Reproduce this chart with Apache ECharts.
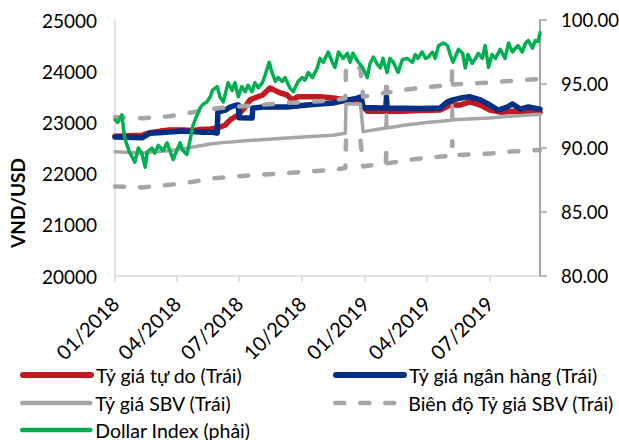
<!DOCTYPE html>
<html>
<head>
<meta charset="utf-8">
<script src="https://cdn.jsdelivr.net/npm/echarts@6/dist/echarts.min.js"></script>
<style>html,body{margin:0;padding:0;background:#fff}#c{width:619px;height:440px}</style>
</head>
<body>
<div id="c"></div>
<script>
// ---- Data ----
const startDate = '2018-01-01';
const endDate = '2019-09-13';
const tickDates = ['2018-01-01','2018-04-01','2018-07-01','2018-10-01','2019-01-01','2019-04-01','2019-07-01'];
const tickLabels = ['01/2018','04/2018','07/2018','10/2018','01/2019','04/2019','07/2019'];
const leftTicks = [20000, 21000, 22000, 23000, 24000, 25000];
const rightTicks = [80, 85, 90, 95, 100];

const seriesNames = ['Tỷ giá tự do (Trái)', 'Tỷ giá ngân hàng (Trái)', 'Tỷ giá SBV (Trái)', 'Biên độ Tỷ giá SBV (Trái)', 'Dollar Index (phải)'];

// Free-market rate (VND/USD)
const freeRate = [
  ['2018-01-01',22730],['2018-01-22',22740],['2018-02-10',22750],['2018-02-21',22800],['2018-03-08',22830],
  ['2018-03-22',22850],['2018-04-10',22850],['2018-04-25',22840],['2018-05-05',22860],['2018-05-20',22870],
  ['2018-05-31',22890],['2018-06-11',22950],['2018-06-18',23050],['2018-06-30',23150],['2018-07-10',23300],
  ['2018-07-17',23440],['2018-07-24',23480],['2018-08-04',23530],['2018-08-15',23670],['2018-08-20',23640],
  ['2018-08-30',23575],['2018-09-09',23535],['2018-09-16',23440],['2018-09-25',23500],['2018-10-08',23500],
  ['2018-10-27',23500],['2018-11-15',23475],['2018-12-06',23440],['2018-12-19',23420],['2018-12-28',23330],
  ['2019-01-04',23220],['2019-01-27',23220],['2019-02-21',23220],['2019-03-22',23230],['2019-04-20',23240],
  ['2019-05-05',23340],['2019-05-20',23340],['2019-06-03',23400],['2019-06-18',23340],['2019-07-02',23240],
  ['2019-07-17',23200],['2019-08-05',23220],['2019-08-25',23200],['2019-09-13',23200]
];

// Bank rate (VND/USD)
const bankRate = [
  ['2018-01-01',22715],['2018-02-10',22700],['2018-02-21',22790],['2018-03-22',22810],['2018-04-10',22830],
  ['2018-05-05',22810],['2018-05-20',22810],['2018-05-30',22790],['2018-05-31',23200],['2018-06-11',23240],
  ['2018-06-18',23300],['2018-06-27',23340],['2018-06-30',23340],['2018-07-01',23090],['2018-07-20',23086],
  ['2018-07-21',23280],['2018-08-05',23300],['2018-09-09',23300],['2018-10-08',23340],['2018-11-15',23380],
  ['2018-12-03',23430],['2018-12-19',23470],['2018-12-26',23500],['2018-12-29',23290],['2019-01-27',23280],
  ['2019-01-31',23280],['2019-02-01',23500],['2019-02-02',23280],['2019-03-22',23270],['2019-04-20',23280],
  ['2019-05-01',23400],['2019-05-09',23440],['2019-05-20',23475],['2019-06-03',23500],['2019-06-18',23440],
  ['2019-07-02',23340],['2019-07-14',23240],['2019-07-27',23300],['2019-08-04',23360],['2019-08-15',23260],
  ['2019-08-27',23300],['2019-09-13',23260]
];

// SBV central rate (VND/USD)
const sbvRate = [
  ['2018-01-01',22425],['2018-02-10',22400],['2018-03-22',22450],['2018-04-10',22480],['2018-04-25',22520],
  ['2018-05-20',22580],['2018-06-03',22600],['2018-07-20',22650],['2018-09-09',22695],['2018-10-08',22720],
  ['2018-11-15',22750],['2018-12-03',22790],['2018-12-04',23360],['2018-12-25',23360],['2018-12-27',23100],
  ['2018-12-29',22820],['2019-01-31',22890],['2019-02-01',23150],['2019-02-02',22890],['2019-03-01',22950],
  ['2019-04-01',23000],['2019-05-07',23040],['2019-05-08',23330],['2019-05-09',23050],['2019-07-01',23086],
  ['2019-08-01',23120],['2019-09-13',23160]
];

// SBV band, upper edge
const bandUpper = [
  ['2018-01-01',23100],['2018-02-10',23080],['2018-03-22',23120],['2018-04-25',23200],['2018-05-20',23260],
  ['2018-06-03',23280],['2018-07-20',23330],['2018-09-09',23380],['2018-10-08',23400],['2018-11-15',23430],
  ['2018-12-03',23470],['2018-12-04',24060],['2018-12-25',24060],['2018-12-27',23790],['2018-12-29',23500],
  ['2019-01-31',23580],['2019-02-01',23850],['2019-02-02',23580],['2019-03-01',23640],['2019-04-01',23690],
  ['2019-05-07',23730],['2019-05-08',24030],['2019-05-09',23740],['2019-07-01',23780],['2019-08-01',23810],
  ['2019-09-13',23850]
];

// SBV band, lower edge
const bandLower = [
  ['2018-01-01',21750],['2018-02-10',21730],['2018-03-22',21780],['2018-04-25',21840],['2018-05-20',21900],
  ['2018-06-03',21920],['2018-07-20',21970],['2018-09-09',22010],['2018-10-08',22040],['2018-11-15',22070],
  ['2018-12-03',22110],['2018-12-04',22660],['2018-12-25',22660],['2018-12-27',22410],['2018-12-29',22140],
  ['2019-01-31',22200],['2019-02-01',22460],['2019-02-02',22200],['2019-03-01',22260],['2019-04-01',22310],
  ['2019-05-07',22350],['2019-05-08',22630],['2019-05-09',22360],['2019-07-01',22390],['2019-08-01',22430],
  ['2019-09-13',22460]
];

// Dollar Index (right axis)
const dollarIndex = [
  ['2018-01-01',92.2],['2018-01-05',92.0],['2018-01-11',92.6],['2018-01-15',90.8],['2018-01-22',89.7],
  ['2018-01-30',88.9],['2018-02-04',90.0],['2018-02-09',89.6],['2018-02-14',88.5],['2018-02-17',89.7],
  ['2018-02-24',90.0],['2018-02-28',89.6],['2018-03-05',90.2],['2018-03-12',89.8],['2018-03-18',90.4],
  ['2018-03-22',89.8],['2018-03-27',89.1],['2018-04-01',89.8],['2018-04-06',90.4],['2018-04-10',89.8],
  ['2018-04-16',89.5],['2018-04-20',90.5],['2018-04-25',91.8],['2018-05-01',92.6],['2018-05-05',93.1],
  ['2018-05-09',93.4],['2018-05-15',93.6],['2018-05-20',94.0],['2018-05-23',94.5],['2018-05-30',94.8],
  ['2018-06-03',94.0],['2018-06-08',93.6],['2018-06-15',95.1],['2018-06-21',94.5],['2018-06-25',95.1],
  ['2018-06-30',94.0],['2018-07-05',94.8],['2018-07-10',94.4],['2018-07-14',94.9],['2018-07-20',94.4],
  ['2018-07-24',95.1],['2018-07-29',94.7],['2018-08-04',95.1],['2018-08-08',95.7],['2018-08-14',96.7],
  ['2018-08-18',95.9],['2018-08-23',95.2],['2018-08-27',95.5],['2018-09-02',95.2],['2018-09-06',95.5],
  ['2018-09-13',94.7],['2018-09-18',94.4],['2018-09-25',95.2],['2018-10-01',95.5],['2018-10-05',95.3],
  ['2018-10-10',95.9],['2018-10-16',95.5],['2018-10-23',96.25],['2018-10-27',97.0],['2018-11-01',96.7],
  ['2018-11-08',97.5],['2018-11-14',96.7],['2018-11-18',96.3],['2018-11-23',97.5],['2018-11-30',97.0],
  ['2018-12-06',97.4],['2018-12-10',96.7],['2018-12-14',97.4],['2018-12-22',96.7],['2018-12-28',96.3],
  ['2019-01-04',95.5],['2019-01-08',96.6],['2019-01-13',97.1],['2019-01-18',96.6],['2019-01-23',96.25],
  ['2019-01-27',97.0],['2019-02-02',95.9],['2019-02-06',97.0],['2019-02-11',96.7],['2019-02-18',95.9],
  ['2019-02-24',96.9],['2019-03-03',97.0],['2019-03-11',96.7],['2019-03-15',97.3],['2019-03-19',97.0],
  ['2019-03-25',97.5],['2019-03-30',97.0],['2019-04-03',97.1],['2019-04-09',97.5],['2019-04-13',97.0],
  ['2019-04-18',98.0],['2019-04-25',98.2],['2019-05-01',98.0],['2019-05-05',97.3],['2019-05-09',96.7],
  ['2019-05-17',97.7],['2019-05-23',97.4],['2019-05-27',96.25],['2019-05-31',97.3],['2019-06-06',96.6],
  ['2019-06-11',97.0],['2019-06-15',97.4],['2019-06-21',97.0],['2019-06-25',98.0],['2019-06-30',96.3],
  ['2019-07-05',97.3],['2019-07-10',97.0],['2019-07-17',97.7],['2019-07-24',97.0],['2019-07-29',98.2],
  ['2019-08-04',97.5],['2019-08-08',97.8],['2019-08-12',98.0],['2019-08-18',97.5],['2019-08-23',98.2],
  ['2019-08-27',98.4],['2019-09-02',97.8],['2019-09-06',98.4],['2019-09-10',98.3],['2019-09-13',99.0]
];

// ---- Chart ----
const FONT = 'Lato';
const DAY = 86400000;
const t0 = +echarts.time.parse(startDate);
const dayOf = d => Math.round((+echarts.time.parse(d) - t0) / DAY);
const toXY = arr => arr.map(p => [dayOf(p[0]), p[1]]);
const tickDays = tickDates.map(dayOf);

const chart = echarts.init(document.getElementById('c'), null, {renderer: 'svg'});

const DASH = [9, 16];
const legendBase = {
  orient: 'horizontal', padding: 0, itemWidth: 68, itemHeight: 20, itemGap: 5,
  selectedMode: false,
  itemStyle: {opacity: 0},
  textStyle: {fontFamily: FONT, fontSize: 19.5, lineHeight: 20, color: '#000'}
};
const mkLegend = (name, left, top, width, dashed) => Object.assign({}, legendBase, {
  left: left, top: top, data: [name],
  lineStyle: {width: width, cap: 'round', type: dashed ? DASH : 'solid', opacity: 1}
});

chart.setOption({
  animation: false,
  backgroundColor: '#fff',
  grid: {left: 115, right: 79, top: 20, bottom: 164, containLabel: false, outerBoundsMode: 'none'},
  xAxis: {
    type: 'value',
    min: 0, max: dayOf(endDate),
    splitLine: {show: false},
    axisLine: {show: true, onZero: false, lineStyle: {color: '#D9D9D9', width: 1.5}},
    axisTick: {show: true, customValues: tickDays, length: 6, lineStyle: {color: '#D9D9D9', width: 1.5}},
    axisLabel: {
      customValues: tickDays, rotate: 45, margin: 24,
      fontFamily: FONT, fontSize: 20, color: '#000',
      formatter: v => { const i = tickDays.indexOf(Math.round(v)); return i >= 0 ? tickLabels[i] : ''; }
    }
  },
  yAxis: [{
    type: 'value', position: 'left', min: leftTicks[0], max: leftTicks[leftTicks.length - 1], interval: 1000,
    splitLine: {show: false},
    axisLine: {show: true, lineStyle: {color: '#D9D9D9', width: 1.5}},
    axisTick: {show: false},
    axisLabel: {margin: 18, fontFamily: FONT, fontSize: 19, color: '#000', formatter: v => String(v)}
  }, {
    type: 'value', position: 'right', min: rightTicks[0], max: rightTicks[rightTicks.length - 1], interval: 5,
    splitLine: {show: false},
    axisLine: {show: true, lineStyle: {color: '#A6A6A6', width: 2}},
    axisTick: {show: true, length: 7, lineStyle: {color: '#A6A6A6', width: 1.5}},
    axisLabel: {margin: 21, fontFamily: FONT, fontSize: 18.5, color: '#000', formatter: v => v.toFixed(2)}
  }],
  graphic: [{
    type: 'text', x: 17, y: 203, rotation: Math.PI / 2,
    style: {text: 'VND/USD', font: 'bold 19px Lato', fill: '#000', align: 'center', verticalAlign: 'middle'}
  }],
  legend: [
    mkLegend(seriesNames[0], 20, 365, 6, false),
    mkLegend(seriesNames[1], 333, 365, 6, false),
    mkLegend(seriesNames[2], 20, 393, 4.5, false),
    mkLegend(seriesNames[3], 333, 393, 4.5, true),
    mkLegend(seriesNames[4], 20, 420, 4.5, false)
  ],
  series: [
    {name: seriesNames[0], type: 'line', yAxisIndex: 0, data: toXY(freeRate), symbol: 'none', color: '#C0191F',
     lineStyle: {width: 5.5, color: '#C0191F', join: 'round', cap: 'round'}},
    {name: seriesNames[1], type: 'line', yAxisIndex: 0, data: toXY(bankRate), symbol: 'none', color: '#002F86',
     lineStyle: {width: 5.5, color: '#002F86', join: 'round', cap: 'round'}},
    {name: seriesNames[2], type: 'line', yAxisIndex: 0, data: toXY(sbvRate), symbol: 'none', color: '#A6A6A6',
     lineStyle: {width: 3.5, color: '#A6A6A6', join: 'round', cap: 'round'}},
    {name: seriesNames[3], type: 'line', yAxisIndex: 0, data: toXY(bandUpper), symbol: 'none', color: '#A6A6A6',
     lineStyle: {width: 4.5, color: '#A6A6A6', type: DASH, cap: 'round', join: 'round'}},
    {name: seriesNames[3], type: 'line', yAxisIndex: 0, data: toXY(bandLower), symbol: 'none', color: '#A6A6A6',
     lineStyle: {width: 4.5, color: '#A6A6A6', type: DASH, cap: 'round', join: 'round'}},
    {name: seriesNames[4], type: 'line', yAxisIndex: 1, data: toXY(dollarIndex), symbol: 'none', color: '#00B050',
     lineStyle: {width: 3.5, color: '#00B050', join: 'round', cap: 'round'}}
  ]
});
</script>
</body>
</html>
